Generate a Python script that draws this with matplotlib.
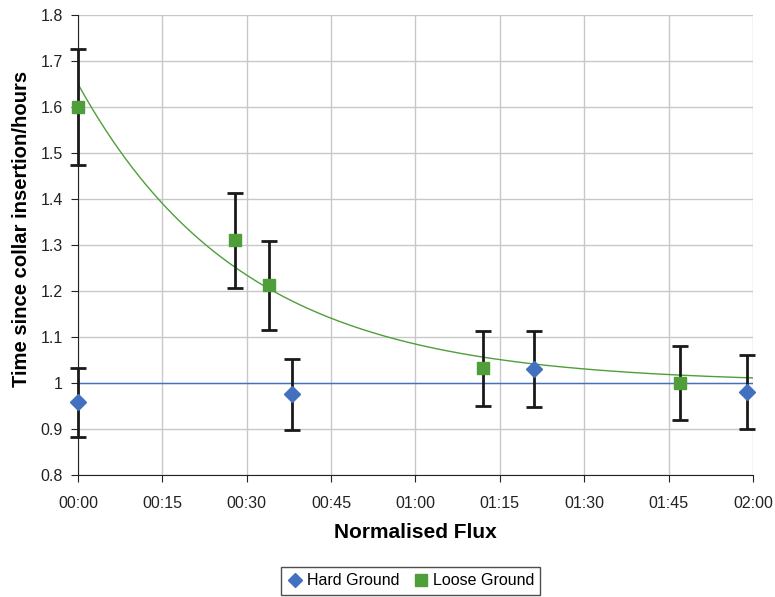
import numpy as np
import matplotlib.pyplot as plt
from matplotlib.ticker import FuncFormatter, MultipleLocator
from matplotlib.lines import Line2D

plt.rcParams['font.family'] = ['Liberation Sans', 'DejaVu Sans']

# times in minutes since start
hard_t = [0, 38, 81, 119]
hard_y = [0.958, 0.975, 1.030, 0.980]
hard_err = [0.075, 0.078, 0.082, 0.080]

loose_t = [0, 28, 34, 72, 107]
loose_y = [1.600, 1.310, 1.212, 1.032, 1.000]
loose_err = [0.127, 0.104, 0.097, 0.082, 0.080]

# fitted decay for loose ground: y = base + amp * exp(-rate * t)
fit_base = 1.0
fit_amp = 0.65
fit_rate = 0.034

hard_level = 1.0

blue = '#4470c0'
green = '#4f9e3a'

fig = plt.figure(figsize=(7.75, 5.97), dpi=100)
ax = fig.add_axes([0.1006, 0.2044, 0.8710, 0.7705])

ax.grid(True, color='#c8c8c8', lw=1)
ax.set_axisbelow(True)

ax.axhline(hard_level, color=blue, lw=1, zorder=2)
tt = np.linspace(0, 120, 300)
ax.plot(tt, fit_base + fit_amp * np.exp(-fit_rate * tt), color=green, lw=1, zorder=2)

ax.errorbar(hard_t, hard_y, yerr=hard_err, fmt='none', ecolor='#1a1a1a',
            elinewidth=2, capsize=6, capthick=2, zorder=3, clip_on=False)
ax.errorbar(loose_t, loose_y, yerr=loose_err, fmt='none', ecolor='#1a1a1a',
            elinewidth=2, capsize=6, capthick=2, zorder=3, clip_on=False)
ax.plot(hard_t, hard_y, 'D', color=blue, ms=8, mec=blue, zorder=4, clip_on=False)
ax.plot(loose_t, loose_y, 's', color=green, ms=9, mec=green, zorder=4, clip_on=False)

ax.set_xlim(0, 120)
ax.set_ylim(0.8, 1.8)
ax.xaxis.set_major_locator(MultipleLocator(15))
ax.yaxis.set_major_locator(MultipleLocator(0.1))
ax.xaxis.set_major_formatter(FuncFormatter(lambda v, p: '%02d:%02d' % (int(v) // 60, int(v) % 60)))
ax.yaxis.set_major_formatter(FuncFormatter(lambda v, p: ('%g' % round(v, 1))))

for s in ['top', 'right']:
    ax.spines[s].set_visible(False)
for s in ['left', 'bottom']:
    ax.spines[s].set_color('#222222')
ax.tick_params(labelsize=11.5, colors='#222222', length=5, pad=6)
ax.tick_params(axis='x', pad=10)

ax.set_xlabel('Normalised Flux', fontsize=15, fontweight='bold', labelpad=9)
ax.set_ylabel('Time since collar insertion/hours', fontsize=14.6, fontweight='bold')
ax.yaxis.set_label_coords(-0.069, 0.535)

handles = [Line2D([], [], marker='D', color=blue, ls='none', ms=7),
           Line2D([], [], marker='s', color=green, ls='none', ms=8)]
fig.legend(handles, ['Hard Ground', 'Loose Ground'], loc='center', bbox_to_anchor=(0.53, 0.027),
           ncol=2, fontsize=11.5, frameon=True, fancybox=False, edgecolor='#222222',
           handletextpad=0.2, columnspacing=0.9, handlelength=1.0, borderpad=0.4)

fig.savefig('out.png', dpi=100)
